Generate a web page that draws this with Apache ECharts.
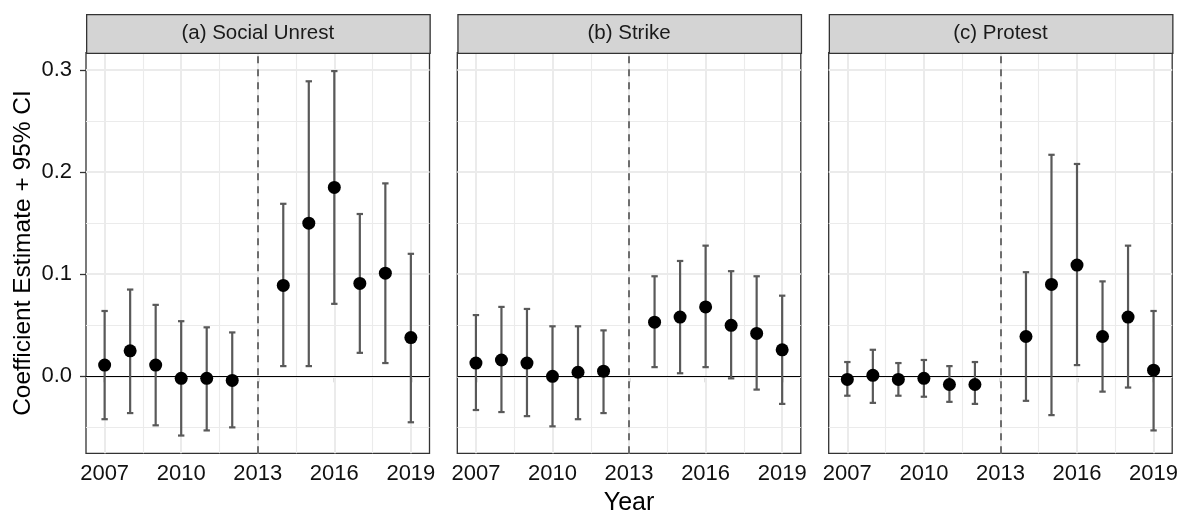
<!DOCTYPE html>
<html>
<head>
<meta charset="utf-8">
<script src="https://cdn.jsdelivr.net/npm/echarts@6/dist/echarts.min.js"></script>
<style>
  html, body { margin: 0; padding: 0; background: #ffffff; }
  #chart { width: 1179px; height: 512px; }
</style>
</head>
<body>
<div id="chart"></div>
<script>
// Event-study coefficients with 95% confidence intervals, by year
const years = [2007, 2008, 2009, 2010, 2011, 2012, 2014, 2015, 2016, 2017, 2018, 2019];
const panelTitles = ['(a) Social Unrest', '(b) Strike', '(c) Protest'];

const unrestEst  = [0.011, 0.025, 0.011, -0.002, -0.002, -0.004, 0.089, 0.150, 0.185, 0.091, 0.101, 0.038];
const unrestLow  = [-0.042, -0.036, -0.048, -0.058, -0.053, -0.050, 0.010, 0.010, 0.071, 0.023, 0.013, -0.045];
const unrestHigh = [0.064, 0.085, 0.070, 0.054, 0.048, 0.043, 0.169, 0.289, 0.299, 0.159, 0.189, 0.120];

const strikeEst  = [0.013, 0.016, 0.013, 0.000, 0.004, 0.005, 0.053, 0.058, 0.068, 0.050, 0.042, 0.026];
const strikeLow  = [-0.033, -0.035, -0.039, -0.049, -0.042, -0.036, 0.009, 0.003, 0.009, -0.002, -0.013, -0.027];
const strikeHigh = [0.060, 0.068, 0.066, 0.049, 0.049, 0.045, 0.098, 0.113, 0.128, 0.103, 0.098, 0.079];

const protestEst  = [-0.003, 0.001, -0.003, -0.002, -0.008, -0.008, 0.039, 0.090, 0.109, 0.039, 0.058, 0.006];
const protestLow  = [-0.019, -0.026, -0.019, -0.020, -0.025, -0.027, -0.024, -0.038, 0.011, -0.015, -0.011, -0.053];
const protestHigh = [0.014, 0.026, 0.013, 0.016, 0.010, 0.014, 0.102, 0.217, 0.208, 0.093, 0.128, 0.064];

// Axis ticks and guide lines
const yTicks = [0, 0.1, 0.2, 0.3];
const yMinor = [-0.05, 0.05, 0.15, 0.25];
const xTicks = [2007, 2010, 2013, 2016, 2019];
const xMinor = [2008.5, 2011.5, 2014.5, 2017.5];
const reformYear = 2013;

const panels = [
  { est: unrestEst, low: unrestLow, high: unrestHigh },
  { est: strikeEst, low: strikeLow, high: strikeHigh },
  { est: protestEst, low: protestLow, high: protestHigh }
];

const FONT = "'Liberation Sans', Arial, sans-serif";
const panelLeft = [86, 457.3, 828.7];
const panelWidth = 343.5;
const panelTop = 52.7;
const panelHeight = 400.6;
const stripTop = 14;
const capHalf = 0.125;

const grids = [], xAxes = [], yAxes = [], series = [], graphics = [];

panels.forEach((p, i) => {
  grids.push({
    left: panelLeft[i], top: panelTop, width: panelWidth, height: panelHeight,
    show: true, borderColor: '#333333', borderWidth: 1.3, backgroundColor: 'transparent',
    containLabel: false, outerBoundsMode: 'none'
  });

  xAxes.push({
    type: 'value', gridIndex: i, min: 2006.27, max: 2019.73,
    axisLine: { show: false },
    splitLine: { show: false },
    axisTick: { show: true, customValues: xTicks, length: 6, lineStyle: { color: '#333333', width: 1.3 } },
    axisLabel: {
      customValues: xTicks, margin: 10, color: '#111111', fontSize: 22, fontFamily: FONT,
      formatter: v => String(Math.round(v))
    },
    name: i === 1 ? 'Year' : '',
    nameLocation: 'middle', nameGap: 36,
    nameTextStyle: { fontSize: 25, fontFamily: FONT, color: '#000000' }
  });

  yAxes.push({
    type: 'value', gridIndex: i, min: -0.0754, max: 0.317,
    axisLine: { show: false },
    splitLine: { show: false },
    axisTick: { show: i === 0, customValues: yTicks, length: 6, lineStyle: { color: '#333333', width: 1.3 } },
    axisLabel: {
      show: i === 0, customValues: yTicks, margin: 14, color: '#111111', fontSize: 22, fontFamily: FONT,
      formatter: v => v.toFixed(1)
    },
    name: i === 0 ? 'Coefficient Estimate + 95% CI' : '',
    nameLocation: 'middle', nameGap: 50,
    nameTextStyle: { fontSize: 24.5, fontFamily: FONT, color: '#000000' }
  });

  // Panel grid lines
  const gridLines = [];
  yMinor.forEach(v => gridLines.push({ yAxis: v, lineStyle: { color: '#ebebeb', width: 1.1, type: 'solid' } }));
  xMinor.forEach(v => gridLines.push({ xAxis: v, lineStyle: { color: '#ebebeb', width: 1.1, type: 'solid' } }));
  yTicks.forEach(v => gridLines.push({ yAxis: v, lineStyle: { color: '#ebebeb', width: 2, type: 'solid' } }));
  xTicks.forEach(v => gridLines.push({ xAxis: v, lineStyle: { color: '#ebebeb', width: 2, type: 'solid' } }));

  series.push({
    type: 'scatter', xAxisIndex: i, yAxisIndex: i, data: [], silent: true, z: 1,
    markLine: { z: 1, silent: true, symbol: ['none', 'none'], label: { show: false }, animation: false, data: gridLines }
  });

  // Zero line and reform year
  series.push({
    type: 'scatter', xAxisIndex: i, yAxisIndex: i, data: [], silent: true, z: 2,
    markLine: {
      z: 2, silent: true, symbol: ['none', 'none'], label: { show: false }, animation: false,
      data: [
        { yAxis: 0, lineStyle: { color: '#000000', width: 1.2, type: 'solid' } },
        { xAxis: reformYear, lineStyle: { color: '#6e6e6e', width: 2, type: [7, 6] } }
      ]
    }
  });

  // Confidence intervals
  series.push({
    type: 'custom', xAxisIndex: i, yAxisIndex: i, z: 3, silent: true,
    data: years.map((y, k) => [y, p.low[k], p.high[k]]),
    encode: { x: 0, y: [1, 2] },
    renderItem: (params, api) => {
      const x = api.value(0), lo = api.value(1), hi = api.value(2);
      const top = api.coord([x, hi]);
      const bot = api.coord([x, lo]);
      const l = api.coord([x - capHalf, hi])[0];
      const r = api.coord([x + capHalf, hi])[0];
      const st = { stroke: '#595959', lineWidth: 2.2 };
      return {
        type: 'group',
        children: [
          { type: 'line', shape: { x1: top[0], y1: top[1], x2: bot[0], y2: bot[1] }, style: st },
          { type: 'line', shape: { x1: l, y1: top[1], x2: r, y2: top[1] }, style: st },
          { type: 'line', shape: { x1: l, y1: bot[1], x2: r, y2: bot[1] }, style: st }
        ]
      };
    }
  });

  // Point estimates
  series.push({
    type: 'scatter', xAxisIndex: i, yAxisIndex: i, z: 4,
    symbol: 'circle', symbolSize: 13,
    itemStyle: { color: '#000000', opacity: 1 },
    data: years.map((y, k) => [y, p.est[k]])
  });

  // Facet strip
  graphics.push({
    type: 'rect', left: panelLeft[i], top: stripTop, z: 10,
    shape: { width: panelWidth, height: panelTop - stripTop },
    style: { fill: '#d4d4d4', stroke: '#333333', lineWidth: 1.3 }
  });
  graphics.push({
    type: 'text', z: 11,
    x: panelLeft[i] + panelWidth / 2, y: (stripTop + panelTop) / 2,
    style: {
      text: panelTitles[i], fill: '#1a1a1a', fontSize: 20.5, fontFamily: FONT,
      align: 'center', verticalAlign: 'middle'
    }
  });
});

const chart = echarts.init(document.getElementById('chart'), null, { renderer: 'canvas' });
chart.setOption({
  animation: false,
  backgroundColor: '#ffffff',
  grid: grids,
  xAxis: xAxes,
  yAxis: yAxes,
  series: series,
  graphic: graphics
});
</script>
</body>
</html>
